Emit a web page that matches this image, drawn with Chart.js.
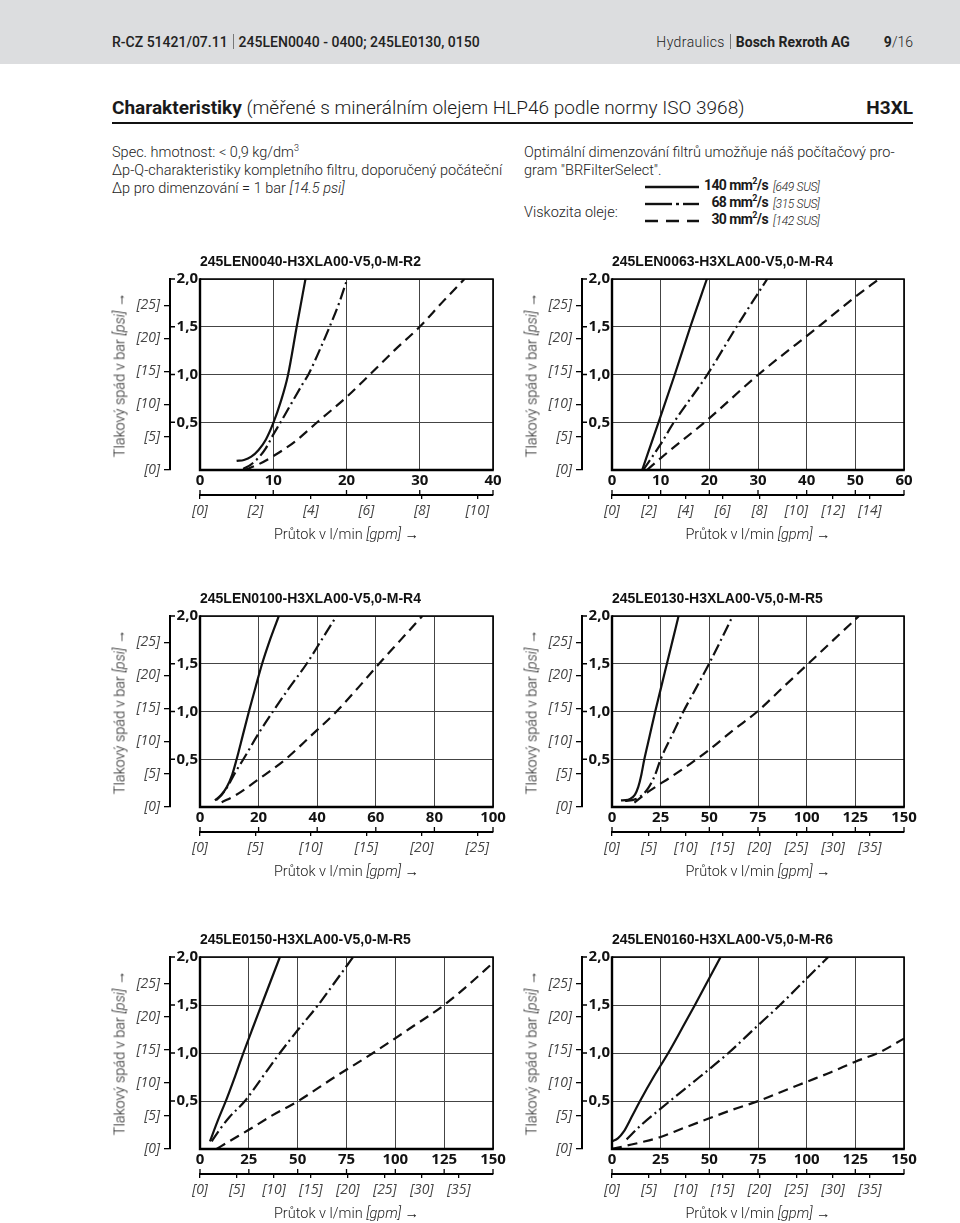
<!DOCTYPE html>
<html>
<head>
<meta charset="utf-8">
<script src="https://cdn.jsdelivr.net/npm/chart.js@4.4.1/dist/chart.umd.min.js"></script>
<style>
  body { margin: 0; width: 960px; height: 1223px; position: relative; overflow: hidden; background: #fff;
         font-family: Roboto, "Liberation Sans", sans-serif; color: #1a1a1a; }
  .abs { position: absolute; white-space: nowrap; }
  .band { position: absolute; left: 0; top: 0; width: 960px; height: 64px; background: #dcdddf; }
  .hdr { font-size: 14px; top: 34px; line-height: 16px; color: #222; }
  .sep { display: inline-block; width: 0; height: 15px; border-left: 1px solid #777; margin: 0 5px; vertical-align: -2px; }
  .light { font-weight: 300; }
  .txt { font-size: 14.5px; font-weight: 300; line-height: 18px; color: #222; }
  .lg { font-size: 14px; font-weight: 700; letter-spacing: -0.6px; }
  .sus { font-size: 12px; font-style: italic; font-weight: 300; letter-spacing: -0.3px; }
  .xt { font-size: 14.5px; font-weight: 300; color: #222; transform: translateX(-50%); }
  .yt { font-size: 14.5px; font-weight: 300; color: #222; transform: translate(-50%, -50%) rotate(-90deg); }
  canvas { position: absolute; }
</style>
</head>
<body>
<div class="band"></div>
<div class="abs hdr" style="left:112px;font-weight:500">R-CZ 51421/07.11<span class="sep"></span>245LEN0040 - 0400; 245LE0130, 0150</div>
<div class="abs hdr" style="right:47px;"><span class="light" style="letter-spacing:0.4px">Hydraulics</span><span class="sep"></span><b>Bosch Rexroth AG</b><span style="display:inline-block;width:34px"></span><b>9</b><span class="light">/16</span></div>

<div class="abs" style="left:112px;top:96px;font-size:19px;line-height:24px;"><b>Charakteristiky</b><span class="light"> (měřené s minerálním olejem HLP46 podle normy ISO 3968)</span></div>
<div class="abs" style="right:47px;top:96px;font-size:19px;line-height:24px;font-weight:700">H3XL</div>
<div class="abs" style="left:112px;top:122px;width:801px;height:2px;background:#111"></div>

<div class="abs txt" style="left:112px;top:144px">Spec. hmotnost: &lt; 0,9 kg/dm<sup style="font-size:9px;line-height:0">3</sup></div>
<div class="abs txt" style="left:112px;top:162px">Δp-Q-charakteristiky kompletního filtru, doporučený počáteční</div>
<div class="abs txt" style="left:112px;top:180px">Δp pro dimenzování = 1 bar <i>[14.5 psi]</i></div>
<div class="abs txt" style="left:524px;top:144px">Optimální dimenzování filtrů umožňuje náš počítačový pro-</div>
<div class="abs txt" style="left:524px;top:162px">gram "BRFilterSelect".</div>
<div class="abs txt" style="left:524px;top:204px">Viskozita oleje:</div>

<svg class="abs" style="left:640px;top:176px" width="66" height="56">
  <line x1="5" y1="11" x2="59" y2="11" stroke="#111" stroke-width="2.4"/>
  <line x1="5" y1="28" x2="32" y2="28" stroke="#111" stroke-width="2.4"/>
  <line x1="36" y1="28" x2="39" y2="28" stroke="#111" stroke-width="2.4"/>
  <line x1="43" y1="28" x2="59" y2="28" stroke="#111" stroke-width="2.4"/>
  <line x1="5" y1="45" x2="59" y2="45" stroke="#111" stroke-width="2.4" stroke-dasharray="13 8"/>
</svg>
<div class="abs lg" style="right:192px;top:177px">140 mm<sup style="font-size:9px;line-height:0">2</sup>/s</div>
<div class="abs lg" style="right:192px;top:194px">68 mm<sup style="font-size:9px;line-height:0">2</sup>/s</div>
<div class="abs lg" style="right:192px;top:211px">30 mm<sup style="font-size:9px;line-height:0">2</sup>/s</div>
<div class="abs sus" style="left:773px;top:180px">[649 SUS]</div>
<div class="abs sus" style="left:773px;top:197px">[315 SUS]</div>
<div class="abs sus" style="left:773px;top:214px">[142 SUS]</div>

<script>
// unit conversions for the secondary axes
const LPM_PER_GPM = 3.78541;
const BAR_TO_PSI = 14.5038;

const barTicks = [0, 0.5, 1, 1.5, 2];
const psiTicks = [0, 5, 10, 15, 20, 25];

// --- chart 1: 245LEN0040 ---
const c1Title = '245LEN0040-H3XLA00-V5,0-M-R2';
const c1Flow = [0, 10, 20, 30, 40];
const c1Gpm = [0, 2, 4, 6, 8, 10];
const c1Visc140 = [[5.0,0.095],[6.0,0.105],[7.0,0.14],[8.0,0.21],[9.0,0.32],[10.0,0.49],[11.0,0.71],[12.0,0.99],[13.2,1.5],[14.4,2.0]];
const c1Visc68 = [[5.9,0.01],[7.0,0.06],[8.0,0.13],[9.0,0.23],[10.0,0.37],[11.0,0.5],[12.5,0.7],[14.0,0.9],[14.8,1.0],[16.3,1.25],[17.7,1.5],[19.0,1.75],[20.1,2.0]];
const c1Visc30 = [[6.1,0.0],[8.0,0.06],[10.0,0.145],[13.0,0.3],[16.0,0.5],[20.1,0.77],[23.2,1.0],[26.5,1.25],[30.0,1.5],[33.0,1.75],[36.1,2.0]];

// --- chart 2: 245LEN0063 ---
const c2Title = '245LEN0063-H3XLA00-V5,0-M-R4';
const c2Flow = [0, 10, 20, 30, 40, 50, 60];
const c2Gpm = [0, 2, 4, 6, 8, 10, 12, 14];
const c2Visc140 = [[6.2,0.0],[9.7,0.52],[12.9,1.0],[16.1,1.5],[19.5,2.0]];
const c2Visc68 = [[6.4,0.0],[10.0,0.27],[12.6,0.49],[19.6,1.0],[25.6,1.5],[31.9,2.0]];
const c2Visc30 = [[7.2,0.0],[9.9,0.12],[19.5,0.52],[30.1,1.0],[42.4,1.5],[49.9,1.81],[54.9,2.0]];

// --- chart 3: 245LEN0100 ---
const c3Title = '245LEN0100-H3XLA00-V5,0-M-R4';
const c3Flow = [0, 20, 40, 60, 80, 100];
const c3Gpm = [0, 5, 10, 15, 20, 25];
const c3Visc140 = [[5.1,0.07],[7.0,0.12],[9.0,0.2],[11.0,0.34],[12.5,0.5],[14.6,0.75],[16.7,1.0],[19.0,1.26],[21.2,1.5],[24.0,1.76],[26.9,2.0]];
const c3Visc68 = [[5.5,0.07],[7.5,0.13],[9.5,0.22],[12.0,0.36],[14.8,0.5],[20.0,0.77],[24.9,1.0],[30.5,1.25],[36.4,1.5],[41.5,1.75],[46.6,2.0]];
const c3Visc30 = [[7.4,0.05],[12.0,0.12],[20.0,0.29],[29.2,0.5],[38.0,0.75],[46.6,1.0],[54.0,1.25],[61.1,1.5],[68.5,1.75],[75.9,2.0]];

// --- chart 4: 245LE0130 ---
const c4Title = '245LE0130-H3XLA00-V5,0-M-R5';
const c4Flow = [0, 25, 50, 75, 100, 125, 150];
const c4Gpm = [0, 5, 10, 15, 20, 25, 30, 35];
const c4Visc140 = [[4.6,0.07],[7.0,0.072],[9.3,0.085],[11.8,0.13],[13.5,0.21],[15.0,0.33],[16.6,0.5],[19.3,0.74],[22.2,1.0],[25.2,1.25],[28.2,1.5],[31.2,1.75],[34.2,2.0]];
const c4Visc68 = [[6.7,0.063],[11.8,0.08],[15.2,0.12],[18.7,0.2],[22.0,0.33],[25.0,0.5],[30.8,0.75],[36.7,1.0],[43.3,1.25],[49.9,1.5],[56.0,1.75],[62.0,2.0]];
const c4Visc30 = [[11.5,0.045],[18.7,0.16],[30.7,0.32],[40.0,0.45],[50.0,0.6],[62.0,0.8],[74.7,1.0],[87.7,1.25],[100.8,1.5],[113.8,1.75],[126.9,2.0]];

// --- chart 5: 245LE0150 ---
const c5Title = '245LE0150-H3XLA00-V5,0-M-R5';
const c5Flow = [0, 25, 50, 75, 100, 125, 150];
const c5Gpm = [0, 5, 10, 15, 20, 25, 30, 35];
const c5Visc140 = [[5.1,0.08],[9.0,0.29],[13.6,0.52],[18.0,0.76],[22.2,1.0],[26.8,1.25],[31.5,1.5],[36.2,1.75],[40.9,2.0]];
const c5Visc68 = [[6.0,0.08],[10.0,0.2],[15.0,0.33],[23.0,0.5],[32.0,0.75],[40.9,1.0],[50.5,1.25],[60.5,1.5],[69.5,1.75],[78.4,2.0]];
const c5Visc30 = [[8.5,0.0],[15.0,0.08],[25.0,0.2],[37.0,0.35],[50.3,0.5],[69.0,0.75],[88.6,1.0],[107.0,1.25],[125.0,1.5],[138.0,1.72],[150.0,1.94]];

// --- chart 6: 245LEN0160 ---
const c6Title = '245LEN0160-H3XLA00-V5,0-M-R6';
const c6Flow = [0, 25, 50, 75, 100, 125, 150];
const c6Gpm = [0, 5, 10, 15, 20, 25, 30, 35];
const c6Visc140 = [[0.0,0.08],[3.0,0.11],[6.0,0.18],[10.0,0.33],[14.4,0.5],[21.5,0.755],[28.9,1.0],[35.8,1.25],[42.6,1.5],[49.2,1.75],[55.8,2.0]];
const c6Visc68 = [[7.5,0.1],[15.0,0.25],[25.0,0.42],[29.8,0.5],[45.0,0.75],[59.8,1.0],[73.0,1.25],[86.3,1.5],[98.7,1.75],[111.1,2.0]];
const c6Visc30 = [[0.0,0.0],[7.5,0.035],[15.0,0.07],[25.0,0.125],[37.0,0.22],[50.0,0.32],[62.0,0.41],[75.2,0.5],[87.5,0.6],[100.0,0.7],[112.5,0.8],[125.0,0.91],[137.7,1.01],[150.0,1.15]];

// plot-area placement on the page
const panels = [
  { title: c1Title, flow: c1Flow, gpm: c1Gpm, s140: c1Visc140, s68: c1Visc68, s30: c1Visc30, left: 200, top: 279, w: 293, h: 191 },
  { title: c2Title, flow: c2Flow, gpm: c2Gpm, s140: c2Visc140, s68: c2Visc68, s30: c2Visc30, left: 612, top: 279, w: 292, h: 191 },
  { title: c3Title, flow: c3Flow, gpm: c3Gpm, s140: c3Visc140, s68: c3Visc68, s30: c3Visc30, left: 200, top: 616, w: 293, h: 191 },
  { title: c4Title, flow: c4Flow, gpm: c4Gpm, s140: c4Visc140, s68: c4Visc68, s30: c4Visc30, left: 612, top: 616, w: 292, h: 191 },
  { title: c5Title, flow: c5Flow, gpm: c5Gpm, s140: c5Visc140, s68: c5Visc68, s30: c5Visc30, left: 200, top: 957, w: 293, h: 192 },
  { title: c6Title, flow: c6Flow, gpm: c6Gpm, s140: c6Visc140, s68: c6Visc68, s30: c6Visc30, left: 612, top: 957, w: 292, h: 192 }
];

const LEFT_W = 100, TOP_H = 39, BOTTOM_H = 61, RIGHT_PAD = 17;
const tickFont = { family: "'Open Sans', 'Noto Sans', sans-serif", size: 15, weight: 'bold' };
const unitFont = { family: "'Open Sans', 'Noto Sans', sans-serif", size: 14, style: 'italic' };

// frame + little tick marks next to the secondary axes
const framePlugin = {
  id: 'frame',
  afterDraw(chart) {
    const ctx = chart.ctx, a = chart.chartArea;
    const psi = chart.scales.yPsi, bar = chart.scales.y;
    const fx = chart.scales.x, gpm = chart.scales.xGpm;
    ctx.save();
    ctx.strokeStyle = '#000';
    ctx.lineWidth = 1.6;
    ctx.beginPath();
    ctx.moveTo(a.left, a.top); ctx.lineTo(a.right, a.top); ctx.lineTo(a.right, a.bottom);
    ctx.stroke();
    ctx.lineWidth = 2.4;
    ctx.beginPath();
    ctx.moveTo(a.left, a.top - 0.8); ctx.lineTo(a.left, a.bottom); ctx.lineTo(a.right + 0.8, a.bottom);
    ctx.stroke();
    ctx.lineWidth = 1.3;
    ctx.beginPath();
    bar.ticks.forEach(t => {
      if (t.value === 0) return;
      const y = bar.getPixelForValue(t.value);
      ctx.moveTo(psi.right, y); ctx.lineTo(psi.right + 5, y);
    });
    fx.ticks.forEach(t => {
      const x = fx.getPixelForValue(t.value);
      ctx.moveTo(x, gpm.top); ctx.lineTo(x, gpm.top - 5);
    });
    ctx.stroke();
    ctx.restore();
  }
};

function series(points, dash, label) {
  return {
    label: label,
    data: points.map(p => ({ x: p[0], y: p[1] })),
    xAxisID: 'x', yAxisID: 'y',
    borderColor: '#111', borderWidth: 2.2, borderDash: dash,
    pointRadius: 0, fill: false, cubicInterpolationMode: 'monotone'
  };
}

function makeChart(p) {
  const cv = document.createElement('canvas');
  const W = p.w + LEFT_W + RIGHT_PAD, H = p.h + TOP_H + BOTTOM_H;
  cv.width = W; cv.height = H;
  cv.style.left = (p.left - LEFT_W) + 'px';
  cv.style.top = (p.top - TOP_H) + 'px';
  cv.style.width = W + 'px'; cv.style.height = H + 'px';
  document.body.appendChild(cv);

  const flowMax = p.flow[p.flow.length - 1];

  new Chart(cv, {
    type: 'line',
    data: {
      datasets: [
        series(p.s140, [], '140 mm²/s'),
        series(p.s68, [12, 4, 2, 4], '68 mm²/s'),
        series(p.s30, [10, 6], '30 mm²/s')
      ]
    },
    options: {
      responsive: false,
      animation: false,
      devicePixelRatio: 1,
      layout: { padding: { left: 0, right: RIGHT_PAD, top: 0, bottom: 0 } },
      plugins: {
        legend: { display: false },
        tooltip: { enabled: false },
        title: {
          display: true, text: p.title, align: 'start', fullSize: false,
          padding: { top: 14.2, bottom: 8 },
          font: { family: "'Liberation Sans', Arial, sans-serif", size: 14, weight: 'bold' },
          color: '#111'
        }
      },
      scales: {
        x: {
          type: 'linear', position: 'bottom', weight: 0, min: 0, max: flowMax,
          afterBuildTicks: s => { s.ticks = p.flow.map(v => ({ value: v })); },
          afterFit: s => { s.height = 25; },
          grid: { color: '#444', lineWidth: 1, drawTicks: false },
          border: { display: false },
          ticks: { padding: 2, font: tickFont, color: '#111', autoSkip: false, maxRotation: 0 }
        },
        xGpm: {
          type: 'linear', position: 'bottom', weight: 1, min: 0, max: flowMax / LPM_PER_GPM,
          afterBuildTicks: s => { s.ticks = p.gpm.map(v => ({ value: v })); },
          afterFit: s => { s.height = BOTTOM_H - 25; },
          grid: { drawOnChartArea: false, drawTicks: true, tickLength: 4, color: '#000', lineWidth: 1.3 },
          border: { display: true, color: '#000', width: 2 },
          ticks: { padding: 4, font: unitFont, color: '#444', autoSkip: false, maxRotation: 0,
                   callback: v => '[' + v + ']' }
        },
        y: {
          position: 'left', weight: 0, min: 0, max: 2,
          afterBuildTicks: s => { s.ticks = barTicks.map(v => ({ value: v })); },
          afterFit: s => { s.width = 30; },
          grid: { color: '#444', lineWidth: 1, drawTicks: false },
          border: { display: false },
          ticks: { padding: 2, font: tickFont, color: '#111',
                   callback: v => v === 0 ? '' : v.toFixed(1).replace('.', ',') }
        },
        yPsi: {
          position: 'left', weight: 1, min: 0, max: 2 * BAR_TO_PSI,
          afterBuildTicks: s => { s.ticks = psiTicks.map(v => ({ value: v })); },
          afterFit: s => { s.width = LEFT_W - 30; },
          grid: { drawOnChartArea: false, drawTicks: true, tickLength: 6, color: '#000', lineWidth: 1.3 },
          border: { display: true, color: '#000', width: 2 },
          ticks: { padding: 4, font: unitFont, color: '#444', callback: v => '[' + v + ']' }
        }
      }
    },
    plugins: [framePlugin]
  });

  // axis titles
  const xt = document.createElement('div');
  xt.className = 'abs xt';
  xt.style.left = (p.left + p.w / 2) + 'px';
  xt.style.top = (p.top + p.h + 56) + 'px';
  xt.innerHTML = 'Průtok v l/min <i>[gpm]</i> →';
  document.body.appendChild(xt);

  const yt = document.createElement('div');
  yt.className = 'abs yt';
  yt.style.left = (p.left - 80) + 'px';
  yt.style.top = (p.top + p.h / 2) + 'px';
  yt.innerHTML = 'Tlakový spád v bar <i>[psi]</i> →';
  document.body.appendChild(yt);
}

panels.forEach(makeChart);
</script>
</body>
</html>
